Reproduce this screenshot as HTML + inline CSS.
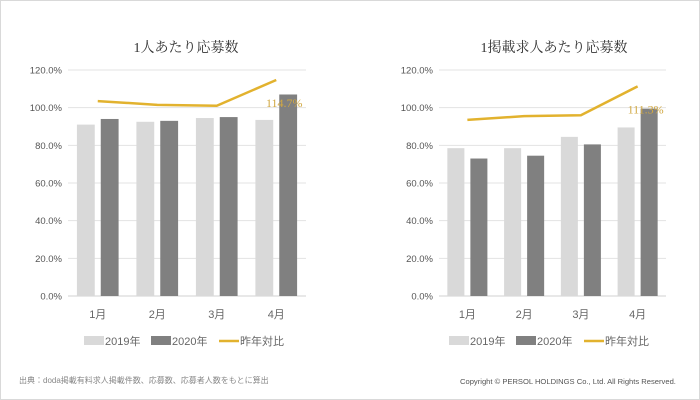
<!DOCTYPE html>
<html><head><meta charset="utf-8">
<style>
html,body{margin:0;padding:0;background:#fff;}
#wrap{position:relative;width:700px;height:400px;overflow:hidden;box-sizing:border-box;border:1px solid #d9d9d9;}
svg{position:absolute;left:0;top:0;}
.foot{position:absolute;font-family:"Liberation Sans","Noto Sans CJK JP",sans-serif;font-size:8px;color:#888;}
</style></head>
<body>
<div id="wrap">
<svg id="chart" width="700" height="400"></svg>
<div class="foot" style="left:18px;top:374px;">出典：doda掲載有料求人掲載件数、応募数、応募者人数をもとに算出</div>
<div class="foot" style="left:459px;top:376px;color:#555;font-size:7.6px;">Copyright © PERSOL HOLDINGS Co., Ltd. All Rights Reserved.</div>
</div>
<script>
const categories = ["1月","2月","3月","4月"];
const yTicks = [0,20,40,60,80,100,120];
const leftTitle = "1人あたり応募数";
const left2019 = [91,92.5,94.5,93.5];
const left2020 = [94,93,95,107];
const leftRatio = [103.5,101.5,101,114.7];
const rightTitle = "1掲載求人あたり応募数";
const right2019 = [78.5,78.5,84.5,89.5];
const right2020 = [73,74.5,80.5,99.5];
const rightRatio = [93.5,95.5,96,111.3];

const NS="http://www.w3.org/2000/svg";
const svg=document.getElementById('chart');
function mk(tag,attrs,parent){const e=document.createElementNS(NS,tag);for(const k in attrs)e.setAttribute(k,attrs[k]);(parent||svg).appendChild(e);return e;}

function drawChart(prefix,title,s19,s20,ratio,x0,x1,titleX,legX){
  const g=mk('g',{});
  
  
  const yTop=69,yBot=295;
  const y=v=>yBot-(v/120)*(yBot-yTop);
  const bw=(x1-x0)/categories.length;
  const cx=i=>x0+bw*(i+0.5);
  const t=mk('text',{x:titleX,y:51,'text-anchor':'middle','font-size':14,fill:'#333','font-family':'"Liberation Serif","Noto Serif CJK SC",serif'},g);
  t.textContent=title;
  
  
  yTicks.forEach(v=>{
    const l=mk('line',{x1:x0,x2:x1,y1:y(v),y2:y(v),stroke:v===0?'#d0d0d0':'#e3e3e3','stroke-width':1},g);
    
    
    const tx=mk('text',{x:x0-6,y:y(v)+3.5,'text-anchor':'end','font-size':9.5,fill:'#555','font-family':'"Liberation Sans",sans-serif'},g);
    tx.textContent=v.toFixed(1)+'%';
    
    
  });
  const w=bw*0.3;
  categories.forEach((c,i)=>{
    const b1=mk('rect',{x:cx(i)-w-3,y:y(s19[i]),width:w,height:yBot-y(s19[i]),fill:'#d9d9d9'},g);
    
    
    const b2=mk('rect',{x:cx(i)+3,y:y(s20[i]),width:w,height:yBot-y(s20[i]),fill:'#808080'},g);
    
    
    const lt=mk('text',{x:cx(i),y:317,'text-anchor':'middle','font-size':11,fill:'#666','font-family':'"Liberation Sans","Noto Sans CJK JP",sans-serif'},g);
    lt.textContent=c;
    
    
  });
  const pl=mk('polyline',{points:ratio.map((v,i)=>cx(i)+','+y(v)).join(' '),fill:'none',stroke:'#e2b22e','stroke-width':2.5},g);
  
  
  const li=ratio.length-1;
  const dl=mk('text',{x:cx(li)+8,y:y(ratio[li])+27,'text-anchor':'middle','font-size':12,fill:'#d1a842','font-family':'"Liberation Serif",serif'},g);
  dl.textContent=ratio[li].toFixed(1)+'%';
  
  
  const lf='"Liberation Sans","Noto Sans CJK JP",sans-serif';
  const items=[['2019年','#d9d9d9','rect'],['2020年','#808080','rect'],['昨年対比','#e2b22e','line']];
  const offs=[0,67,135];
  items.forEach((it,k)=>{
    const lx=legX+offs[k];
    if(it[2]==='rect'){const r=mk('rect',{x:lx,y:335,width:20,height:9,fill:it[1]},g);}
    else{const r=mk('line',{x1:lx,x2:lx+20,y1:340,y2:340,stroke:it[1],'stroke-width':2.5},g);}
    const tt=mk('text',{x:lx+21,y:344,'font-size':11,fill:'#666','font-family':lf},g);
    tt.textContent=it[0];
    
    
  });
}
drawChart('left',leftTitle,left2019,left2020,leftRatio,67,305,185,83);
drawChart('right',rightTitle,right2019,right2020,rightRatio,438,665,553,448);
</script>
</body></html>
